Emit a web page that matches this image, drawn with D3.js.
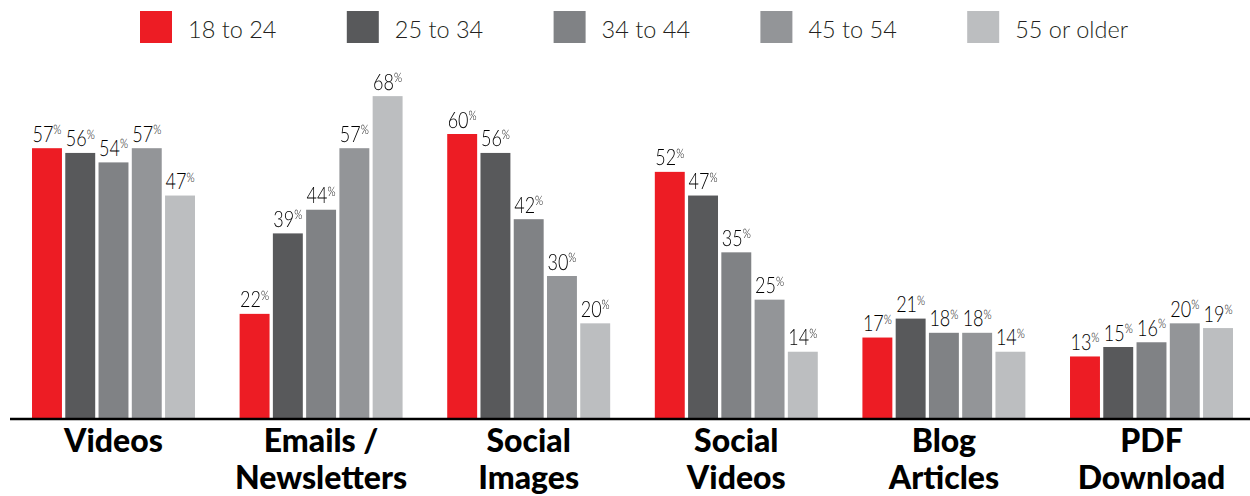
<!DOCTYPE html>
<html>
<head>
<meta charset="utf-8">
<script src="https://cdn.jsdelivr.net/npm/d3@7"></script>
<style>
  html, body { margin: 0; padding: 0; background: #fff; }
  svg { display: block; }
  text.value { text-rendering: geometricPrecision; }
</style>
</head>
<body>
<svg id="chart" width="1250" height="496"></svg>
<script>
// Content types (two-line labels) and age groups
const categories = ["Videos", "Emails / Newsletters", "Social Images", "Social Videos", "Blog Articles", "PDF Download"];
const categoryLines = [["Videos"], ["Emails /", "Newsletters"], ["Social", "Images"], ["Social", "Videos"], ["Blog", "Articles"], ["PDF", "Download"]];
const ageGroups = ["18 to 24", "25 to 34", "34 to 44", "45 to 54", "55 or older"];
const colors = ["#ED1C24", "#58595B", "#808285", "#939598", "#BCBEC0"];

// Percent of each age group, per content type
const age18to24 = [57, 22, 60, 52, 17, 13];
const age25to34 = [56, 39, 56, 47, 21, 15];
const age34to44 = [54, 44, 42, 35, 18, 16];
const age45to54 = [57, 57, 30, 25, 18, 20];
const age55plus = [47, 68, 20, 14, 14, 19];
const seriesValues = [age18to24, age25to34, age34to44, age45to54, age55plus];

const svg = d3.select("#chart");
const baseY = 418;

const x0 = d3.scaleBand()
  .domain(categories)
  .range([9.7, 1255.3])
  .paddingInner(0.215)
  .paddingOuter(0.1075);

const x1 = d3.scaleBand()
  .domain(ageGroups)
  .range([0, x0.bandwidth()])
  .paddingInner(0.1);

const y = d3.scaleLinear().domain([0, 60]).range([baseY, 134]);

const rows = categories.map((c, i) => ({
  category: c,
  values: ageGroups.map((g, j) => ({ group: g, color: colors[j], value: seriesValues[j][i] }))
}));

// Bars
const groups = svg.append("g").selectAll("g")
  .data(rows)
  .join("g")
  .attr("transform", d => `translate(${x0(d.category)},0)`);

groups.selectAll("rect")
  .data(d => d.values)
  .join("rect")
  .attr("x", d => x1(d.group))
  .attr("y", d => y(d.value))
  .attr("width", x1.bandwidth())
  .attr("height", d => baseY - y(d.value))
  .attr("fill", d => d.color);

// Value labels (narrowed) with superscript percent sign
const labelLayer = groups.append("g").attr("opacity", 0.999);
const labels = labelLayer.selectAll("text.value")
  .data(d => d.values)
  .join("text")
  .attr("class", "value")
  .attr("transform", d => `translate(${x1(d.group) + x1.bandwidth() / 2},${y(d.value) - 6.5}) scale(0.8,1)`)
  .attr("text-anchor", "middle")
  .attr("font-family", "Lato, sans-serif")
  .attr("font-weight", 300)
  .attr("fill", "#000");

labels.append("tspan")
  .attr("font-size", 22.5)
  .text(d => d.value);
labels.append("tspan")
  .attr("font-size", 13)
  .attr("dy", -7.5)
  .text("%");

// Baseline axis
const xAxis = d3.axisBottom(x0).tickSize(0).tickFormat("");
const axisG = svg.append("g")
  .attr("transform", `translate(0,${baseY + 1})`)
  .call(xAxis);
axisG.select(".domain")
  .attr("d", "M10,0H1250")
  .attr("stroke", "#000")
  .attr("stroke-width", 2.6);

// Category labels
const catText = svg.append("g").selectAll("text")
  .data(categories)
  .join("text")
  .attr("x", d => x0(d) + x0.bandwidth() / 2)
  .attr("y", 452)
  .attr("text-anchor", "middle")
  .attr("font-family", "Lato, sans-serif")
  .attr("font-weight", 900)
  .attr("font-size", 32)
  .attr("fill", "#000");

catText.selectAll("tspan")
  .data((d, i) => categoryLines[i])
  .join("tspan")
  .attr("x", function () { return d3.select(this.parentNode).attr("x"); })
  .attr("dy", (d, i) => i === 0 ? 0 : 37)
  .text(d => d);

// Legend
const legend = svg.append("g").selectAll("g")
  .data(ageGroups)
  .join("g")
  .attr("transform", (d, i) => `translate(${140 + i * 206.8},11)`);

legend.append("rect")
  .attr("width", 32)
  .attr("height", 32)
  .attr("fill", (d, i) => colors[i]);

legend.append("text")
  .attr("x", 48)
  .attr("y", 27)
  .attr("font-family", "Lato, sans-serif")
  .attr("font-weight", 300)
  .attr("font-size", 23.5)
  .attr("fill", "#231F20")
  .text(d => d);
</script>
</body>
</html>
